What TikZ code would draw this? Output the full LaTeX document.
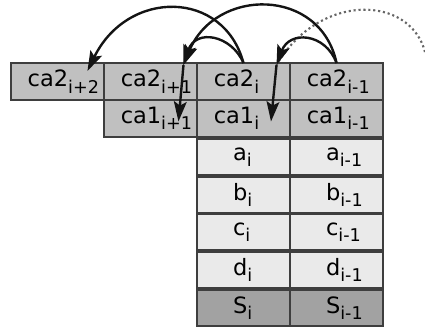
\documentclass[tikz,border=0pt]{standalone}
\usepackage{fontspec}
\setmainfont{DejaVu Sans}
\usepackage{xcolor}
\usepackage{tikz}
\usetikzlibrary{arrows.meta, positioning, calc}
\definecolor{cagray}{RGB}{192, 192, 192}
\definecolor{rowlight}{RGB}{234, 234, 234}
\definecolor{sumgray}{RGB}{162, 162, 162}
\definecolor{edgegray}{RGB}{62, 62, 62}
\definecolor{linkdark}{RGB}{20, 20, 20}
\newcommand{\lowidx}[1]{\raisebox{-0.28em}{\fontsize{12.5}{14}\selectfont #1}}

\begin{document}
\begin{tikzpicture}[
    x=0.025cm, y=-0.025cm,
    cacell/.style={rectangle, draw=edgegray, line width=1.5pt, fill=cagray, outer sep=0pt,
                   minimum width=2.325cm, minimum height=0.925cm, inner ysep=0pt,
                   inner xsep=0.42cm, text width=1.485cm, align=left,
                   font=\fontsize{16}{19}\selectfont},
    rowcell/.style={cacell, fill=rowlight, minimum height=0.9cm,
                    inner xsep=0.9cm, text width=0.525cm},
    sumcell/.style={rowcell, fill=sumgray},
    carry/.style={-{Stealth[length=5mm, width=3.2mm, inset=1mm]}, line width=1.7pt, linkdark},
    farlink/.style={dotted, line width=1.5pt, gray!80!black}
]
\useasboundingbox (0,0) rectangle (425,329);

% carry row 2
\node[cacell] (ca2i) at (243.5,81.5) {ca2\lowidx{i}};
\node[cacell, left=0pt of ca2i] (ca2ip1) {ca2\lowidx{i+1}};
\node[cacell, left=0pt of ca2ip1] (ca2ip2) {ca2\lowidx{i+2}};
\node[cacell, right=0pt of ca2i] (ca2im1) {ca2\lowidx{i-1}};

% carry row 1
\node[cacell, below=0pt of ca2ip1] (ca1ip1) {ca1\lowidx{i+1}};
\node[cacell, below=0pt of ca2i] (ca1i) {ca1\lowidx{i}};
\node[cacell, below=0pt of ca2im1] (ca1im1) {ca1\lowidx{i-1}};

% operand rows
\node[rowcell, below=0.05cm of ca1i] (ai) {a\lowidx{i}};
\node[rowcell, below=0.05cm of ca1im1] (aim1) {a\lowidx{i-1}};
\node[rowcell, below=0.04cm of ai] (bi) {b\lowidx{i}};
\node[rowcell, below=0.04cm of aim1] (bim1) {b\lowidx{i-1}};
\node[rowcell, below=0.04cm of bi] (ci) {c\lowidx{i}};
\node[rowcell, below=0.04cm of bim1] (cim1) {c\lowidx{i-1}};
\node[rowcell, below=0.04cm of ci] (di) {d\lowidx{i}};
\node[rowcell, below=0.04cm of cim1] (dim1) {d\lowidx{i-1}};

% sum row
\node[sumcell, below=0.05cm of di] (si) {S\lowidx{i}};
\node[sumcell, below=0.05cm of dim1] (sim1) {S\lowidx{i-1}};

% landing points of the carries
\coordinate (hitip1) at ($(ca2ip1.north)+(33,2)$);
\coordinate (hiti) at ($(ca2i.north)+(33,2)$);
\coordinate (hitip2) at ($(ca2ip2.north)+(30,8)$);
\coordinate (fromim2) at (425,52);

% long carries
\draw[carry] (ca2i.north) .. controls ($(ca2i.north)+(-20,-74)$) and ($(hitip2)+(40,-82)$) .. (hitip2);
\draw[carry] (ca2im1.north) .. controls ($(ca2im1.north)+(-16,-76)$) and ($(hitip1)+(32,-78)$) .. (hitip1);
\draw[farlink] (fromim2) .. controls ($(fromim2)+(-15,-57)$) and ($(hiti)+(43,-73)$) .. (hiti);

% short carries
\draw[carry] (ca2i.north) .. controls ($(ca2i.north)+(-12,-28)$) and ($(hitip1)+(12,-37)$) .. (hitip1);
\draw[carry] (ca2im1.north) .. controls ($(ca2im1.north)+(-11,-30)$) and ($(hiti)+(13,-35)$) .. (hiti);

% down into carry row 1
\draw[carry] (hitip1) -- ($(ca1ip1.center)+(28,3)$);
\draw[carry] (hiti) -- ($(ca1i.center)+(27.5,3)$);

\end{tikzpicture}
\end{document}
